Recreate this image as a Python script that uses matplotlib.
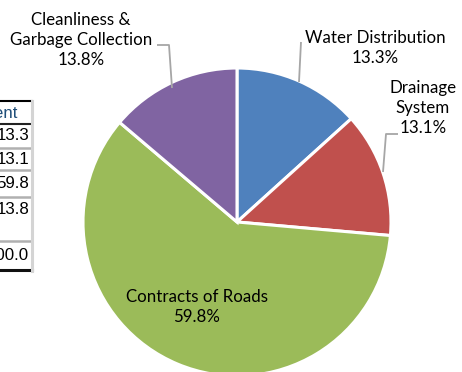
import matplotlib
matplotlib.use("Agg")
import matplotlib.pyplot as plt

# Budget share by service
categories = ["Water Distribution", "Drainage\nSystem", "Contracts of Roads",
              "Cleanliness &\nGarbage Collection"]
shares = [13.3, 13.1, 59.8, 13.8]
colors = ["#4F81BD", "#C0504D", "#9BBB59", "#8064A2"]

# Neighbouring table column
table_header = "Percent"
table_values = [13.3, 13.1, 59.8, 13.8]
table_total = 100.0

W, H = 462, 372
fig = plt.figure(figsize=(W / 100, H / 100), dpi=100)
ax = fig.add_axes([0, 0, 1, 1])


def Y(y):
    return H - y


ax.pie(shares, colors=colors, startangle=90, counterclock=False,
       center=(237, Y(222)), radius=154, frame=True,
       wedgeprops=dict(edgecolor="white", linewidth=2.2))
ax.set_xlim(0, W)
ax.set_ylim(0, H)
ax.set_aspect("equal")
ax.axis("off")

lab_font = dict(family=["Lato", "DejaVu Sans"], size=12.2, color="#000000",
                linespacing=1.34)
lead = dict(color="#A6A6A6", lw=1.3, solid_capstyle="butt")

# Data labels with leader lines
ax.text(375, Y(48), f"{categories[0]}\n{shares[0]:.1f}%", ha="center", va="center", **lab_font)
ax.plot([301, 299], [Y(42), Y(82)], **lead)

ax.text(423, Y(108), f"{categories[1]}\n{shares[1]:.1f}%", ha="center", va="center", **lab_font)
ax.plot([398, 386, 383], [Y(134), Y(134), Y(172)], **lead)

ax.text(197, Y(307), f"{categories[2]}\n{shares[2]:.1f}%", ha="center", va="center", **lab_font)

ax.text(81, Y(40), f"{categories[3]}\n{shares[3]:.1f}%", ha="center", va="center", **lab_font)
ax.plot([157, 169, 172], [Y(45), Y(45), Y(88)], **lead)

# Table fragment on the left
tab_font = dict(family=["Liberation Sans", "DejaVu Sans"], size=12.2, color="#000000")
ax.text(18, Y(114), table_header, ha="right", va="center",
        family=["Liberation Sans", "DejaVu Sans"], size=12.2, color="#1F4E79")
row_y = [136, 159, 184, 209]
for v, yy in zip(table_values, row_y):
    ax.text(29, Y(yy), f"{v:.1f}", ha="right", va="center", **tab_font)
ax.text(29, Y(256), f"{table_total:.1f}", ha="right", va="center", **tab_font)

ax.plot([0, 32], [Y(101), Y(101)], color="#000000", lw=1.5)
ax.plot([0, 32], [Y(124), Y(124)], color="#222222", lw=1.5)
for yy in [148, 170, 197, 241]:
    ax.plot([0, 32], [Y(yy), Y(yy)], color="#B0B0B0", lw=1.8)
ax.plot([0, 32], [Y(270), Y(270)], color="#111111", lw=2.2)
ax.plot([32, 32], [Y(101), Y(271)], color="#D4D4D4", lw=2.2)

fig.savefig("out.png", dpi=100)
